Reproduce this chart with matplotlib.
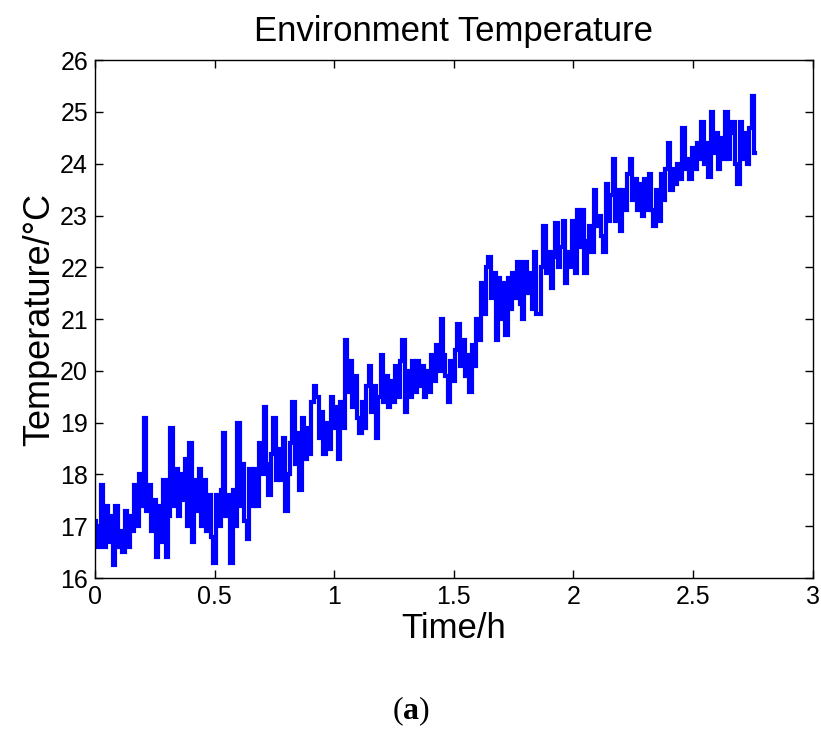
import numpy as np
import matplotlib
matplotlib.use('Agg')
import matplotlib.pyplot as plt
from matplotlib.ticker import FormatStrFormatter

# Environment temperature log, one reading every 0.01 h
sample_step_h = 0.01
temp_c = [
    # 0.00 - 0.45 h
    17.1, 16.6, 17.0, 17.8, 16.6, 17.4, 16.7, 17.2, 16.25, 17.4,
    16.6, 16.9, 16.5, 17.3, 16.6, 17.2, 16.9, 17.8, 17.0, 18.0,
    17.4, 19.1, 17.3, 17.8, 16.9, 17.5, 16.4, 17.4, 16.7, 17.9,
    16.4, 17.2, 18.9, 17.4, 18.1, 17.2, 18.0, 17.5, 18.3, 17.0,
    18.6, 16.7, 17.9, 17.3, 18.1, 17.0,
    # 0.46 - 0.92 h
    17.9, 16.9, 17.6, 16.8, 16.3, 17.6, 17.0, 17.7, 18.8, 17.2,
    17.6, 16.3, 17.7, 17.0, 19.0, 17.4, 18.2, 17.1, 16.75, 18.1,
    17.4, 18.1, 17.4, 18.6, 18.0, 19.3, 18.2, 17.6, 18.4, 19.1,
    17.9, 18.5, 17.9, 18.7, 17.3, 18.0, 18.6, 19.4, 18.2, 18.8,
    17.7, 19.1, 18.3, 18.9, 18.4, 19.4, 19.7,
    # 0.93 - 1.39 h
    19.5, 18.7, 19.2, 18.4, 19.0, 18.5, 19.5, 18.9, 19.3, 18.3,
    19.4, 18.9, 20.6, 19.6, 20.2, 19.3, 19.9, 19.1, 18.8, 19.4,
    18.9, 19.7, 20.1, 19.2, 19.7, 18.7, 19.5, 20.3, 19.4, 19.9,
    19.3, 19.8, 19.4, 20.1, 19.5, 20.2, 20.6, 19.2, 20.0, 19.5,
    20.2, 19.6, 20.2, 19.7, 20.1, 19.5, 20.0,
    # 1.40 - 1.85 h
    19.6, 20.3, 19.8, 20.5, 20.0, 21.0, 20.3, 19.9, 19.4, 20.2,
    19.8, 20.4, 20.9, 20.1, 20.6, 19.9, 20.3, 19.6, 20.5, 20.1,
    21.0, 20.6, 21.7, 21.1, 22.0, 22.2, 21.4, 21.9, 20.6, 21.8,
    21.0, 21.7, 20.7, 21.8, 21.2, 21.9, 21.4, 22.1, 21.3, 21.0,
    22.1, 21.5, 21.9, 21.2, 22.3, 21.1,
    # 1.86 - 2.32 h
    21.1, 22.0, 22.8, 21.9, 22.3, 21.6, 22.2, 22.85, 22.0, 22.4,
    22.9, 21.7, 22.3, 22.0, 22.9, 21.9, 23.1, 22.4, 23.1, 21.9,
    22.5, 22.8, 22.3, 23.5, 22.8, 23.0, 22.6, 22.3, 23.6, 22.9,
    23.4, 24.1, 22.9, 23.5, 22.7, 23.5, 23.1, 23.8, 24.1, 23.3,
    23.7, 23.1, 23.6, 23.0, 23.7, 23.1, 23.8,
    # 2.33 - 2.76 h
    23.1, 22.8, 23.5, 22.9, 23.8, 23.3, 23.9, 24.4, 23.5, 23.9,
    23.6, 24.0, 23.7, 24.7, 23.9, 24.1, 23.7, 24.3, 23.9, 24.4,
    24.1, 24.8, 24.0, 24.4, 23.75, 25.0, 24.2, 24.6, 23.9, 24.5,
    24.1, 25.0, 24.1, 24.6, 24.8, 24.0, 23.6, 24.8, 24.1, 24.6,
    24.0, 24.7, 25.3, 24.2,
]
time_h = np.arange(len(temp_c)) * sample_step_h

x_ticks = [0, 0.5, 1, 1.5, 2, 2.5, 3]
y_ticks = [16, 17, 18, 19, 20, 21, 22, 23, 24, 25, 26]

plt.rcParams['font.family'] = ['Liberation Sans', 'DejaVu Sans']
plt.rcParams['mathtext.fontset'] = 'custom'
plt.rcParams['mathtext.rm'] = 'Liberation Serif'
plt.rcParams['mathtext.bf'] = 'Liberation Serif:bold'

fig = plt.figure(figsize=(8.21, 7.43), dpi=100)
ax = fig.add_axes([0.1157, 0.222, 0.874, 0.697])

# sensor readings held between samples
ax.plot(time_h, temp_c, color='#0000ff', linewidth=3.0,
        drawstyle='steps-mid', solid_joinstyle='miter')

ax.set_xlim(0, 3)
ax.set_ylim(16, 26)
ax.set_xticks(x_ticks)
ax.set_yticks(y_ticks)
ax.xaxis.set_major_formatter(FormatStrFormatter('%g'))
ax.tick_params(direction='in', length=6, width=1, top=True, right=True,
               labelsize=18, pad=5)
for s in ax.spines.values():
    s.set_linewidth(1.0)

ax.set_title('Environment Temperature', fontsize=25, pad=14)
ax.set_xlabel('Time/h', fontsize=25, labelpad=2)
ax.set_ylabel('Temperature/°C', fontsize=26, labelpad=2)

fig.text(0.5, 0.02, r'($\mathbf{a}$)', ha='center', va='bottom',
         fontsize=23, family='Liberation Serif')

fig.savefig('out.png', dpi=100)
